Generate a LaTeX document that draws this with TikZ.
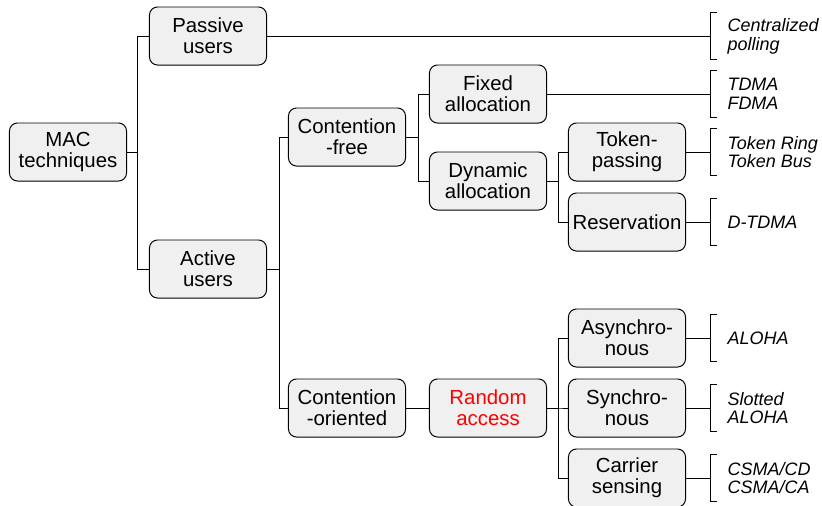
\documentclass[tikz,border=0pt]{standalone}
\usepackage{fontspec}
\setmainfont{Liberation Sans}
\usepackage{tikz}

\definecolor{boxfill}{RGB}{240,240,240}

\begin{document}
\begin{tikzpicture}[x=0.025cm,y=-0.025cm,line width=0.7pt,
  mac/.style={draw,fill=boxfill,rounded corners=0.2cm,minimum width=2.925cm,minimum height=1.45cm,align=center,inner sep=1pt,font=\fontsize{14.5}{15.2}\selectfont},
  leaf/.style={anchor=west,minimum height=1.15cm,inner xsep=0.425cm,inner ysep=0pt,align=left,font=\fontsize{12.8}{13.3}\selectfont\itshape}]

\useasboundingbox (0,0) rectangle (822,506);

% boxes
\node [mac] (tech) at (68,152) {MAC\\techniques};
\node [mac] (pas) at (208,36) {Passive\\users};
\node [mac] (act) at (208,269) {Active\\users};
\node [mac] (cfree) at (347,137) {Contention\\-free};
\node [mac] (cor) at (347,408) {Contention\\-oriented};
\node [mac] (fix) at (488,94) {Fixed\\allocation};
\node [mac] (dyn) at (488,181) {Dynamic\\allocation};
\node [mac,text=red] (rand) at (488,408) {Random\\access};
\node [mac] (tok) at (627,152) {Token-\\passing};
\node [mac] (res) at (627,222) {Reservation};
\node [mac] (asy) at (627,338) {Asynchro-\\nous};
\node [mac] (syn) at (627,408) {Synchro-\\nous};
\node [mac] (car) at (627,478) {Carrier\\sensing};

% examples
\node [leaf] (cp) at (710,36) {Centralized\\polling};
\node [leaf] (tf) at (710,94) {TDMA\\FDMA};
\node [leaf] (tk) at (710,152) {Token Ring\\Token Bus};
\node [leaf] (dt) at (710,222) {D-TDMA};
\node [leaf] (al) at (710,338) {ALOHA};
\node [leaf] (sa) at (710,408) {Slotted\\ALOHA};
\node [leaf] (cs) at (710,478) {CSMA/CD\\CSMA/CA};

\foreach \l in {cp,tf,tk,dt,al,sa,cs}
  \draw ([xshift=0.175cm]\l.north west) -- (\l.north west) -- (\l.south west) -- ++(7,0);

% tree
\draw (tech.east) -- ++(10,0) |- (pas.west);
\draw (tech.east) -- ++(10,0) |- (act.west);
\draw (act.east) -- ++(12,0) |- (cfree.west);
\draw (act.east) -- ++(12,0) |- (cor.west);
\draw (cfree.east) -- ++(12,0) |- (fix.west);
\draw (cfree.east) -- ++(12,0) |- (dyn.west);
\draw (dyn.east) -- ++(11,0) |- (tok.west);
\draw (dyn.east) -- ++(11,0) |- (res.west);
\draw (cor) -- (rand);
\draw (rand.east) -- ++(11,0) |- (asy.west);
\draw (rand.east) -- ++(11,0) |- (syn.west);
\draw (rand.east) -- ++(11,0) |- (car.west);

\draw (pas) -- (cp.west);
\draw (fix) -- (tf.west);
\draw (tok) -- (tk.west);
\draw (res) -- (dt.west);
\draw (asy) -- (al.west);
\draw (syn) -- (sa.west);
\draw (car) -- (cs.west);

\end{tikzpicture}
\end{document}
